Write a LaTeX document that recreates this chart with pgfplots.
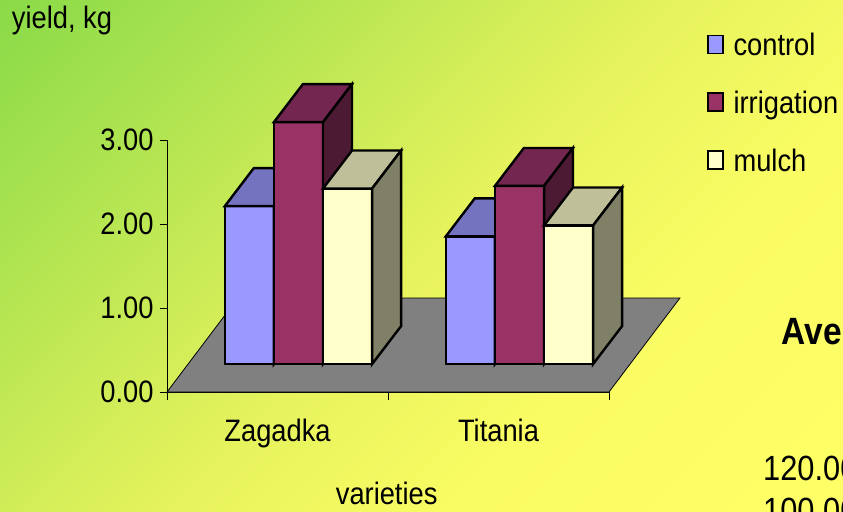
\documentclass[border=0pt]{standalone}
\usepackage{pgfplots}
\usepackage{pgfplotstable}
\pgfplotsset{compat=1.18}
\usepackage{fontspec}
\setmainfont{Liberation Sans}[FakeStretch=0.88]
\newcommand\lbl{\fontsize{31bp}{36bp}\selectfont}

\definecolor{bgG}{RGB}{138,218,72}
\definecolor{bgM}{RGB}{230,243,93}
\definecolor{bgYa}{RGB}{250,252,99}
\definecolor{bgY}{RGB}{255,255,102}
\pgfdeclarehorizontalshading{bgshade}{100bp}{color(0bp)=(bgG); color(14.6bp)=(bgG); color(50bp)=(bgM); color(65bp)=(bgYa); color(85.4bp)=(bgY); color(100bp)=(bgY)}

\definecolor{ctrl}{HTML}{9999FF}
\definecolor{ctrlT}{HTML}{7373BF}
\definecolor{ctrlS}{HTML}{4D4D80}
\definecolor{irr}{HTML}{993366}
\definecolor{irrT}{HTML}{732650}
\definecolor{irrS}{HTML}{4D1A33}
\definecolor{mul}{HTML}{FFFFCC}
\definecolor{mulT}{HTML}{BFBF99}
\definecolor{mulS}{HTML}{808066}
\definecolor{floorgray}{HTML}{808080}

% yield, kg
\pgfplotstableread{
variety control irrigation mulch
Zagadka 1.88 2.88 2.09
Titania 1.52 2.12 1.65
}\yielddata

% oblique geometry (axis units)
\newcommand\bw{0.2222}
\newcommand\bofy{0.333}
\newcommand\bdx{0.131}
\newcommand\bdy{0.452}

\newcommand\cuboid[5]{%
 \pgfmathsetmacro\xa{#1}%
 \pgfmathsetmacro\xb{#1+\bw}%
 \pgfmathsetmacro\yt{\bofy+#2}%
 \pgfmathsetmacro\xc{\xa+\bdx}%
 \pgfmathsetmacro\xd{\xb+\bdx}%
 \pgfmathsetmacro\yu{\yt+\bdy}%
 \pgfmathsetmacro\yv{\bofy+\bdy}%
 \addplot[barline, fill=#3] coordinates {(\xa,\bofy) (\xb,\bofy) (\xb,\yt) (\xa,\yt)} -- cycle;
 \addplot[barline, fill=#4] coordinates {(\xa,\yt) (\xb,\yt) (\xd,\yu) (\xc,\yu)} -- cycle;
 \addplot[barline, fill=#5] coordinates {(\xb,\bofy) (\xd,\yv) (\xd,\yu) (\xb,\yt)} -- cycle;
}
\newcommand\tablebar[6]{%
 \pgfplotstablegetelem{#1}{#2}\of\yielddata
 \edef\val{\pgfplotsretval}%
 \cuboid{#3}{\val}{#4}{#5}{#6}}

\begin{document}
\begin{tikzpicture}
\useasboundingbox (0bp,0bp) rectangle (843bp,512bp);
\clip (0bp,0bp) rectangle (843bp,512bp);
\shade[shading=bgshade, shading angle=-45] (0bp,0bp) rectangle (843bp,512bp);

\begin{axis}[
 at={(167bp,120bp)}, anchor=south west,
 scale only axis, width=442bp, height=252bp,
 xmin=0, xmax=2, ymin=0, ymax=3,
 clip=false,
 axis lines*=left,
 axis line style={black, line width=0.8bp},
 ytick={0,1,2,3},
 yticklabel style={xshift=-3bp, /pgf/number format/.cd, fixed, fixed zerofill, precision=2, assume math mode=true},
 xtick={0.5,1.5}, xticklabels={Zagadka,Titania},
 xticklabel style={yshift=-17bp},
 major x tick style={draw=none},
 minor xtick={0,1,2},
 tick align=outside, major tick length=7bp, minor tick length=8bp,
 tick style={black, line width=0.8bp},
 tick label style={font=\lbl},
 xlabel={varieties}, ylabel={yield, kg},
 every axis x label/.style={at={(rel axis cs:0.497,-0.446)}, anchor=base, font=\lbl, inner sep=0pt},
 every axis y label/.style={at={(rel axis cs:-0.2376,1.443)}, anchor=base, font=\lbl, inner sep=0pt},
 barline/.style={draw=black, line width=2.4bp, line join=miter, forget plot},
 legend style={at={(rel axis cs:1.2217,1.418)}, anchor=north west, draw=none, fill=none,
   inner sep=0pt, outer sep=0pt, row sep=30.5bp, column sep=10bp, font=\lbl,
   nodes={inner sep=0pt, text height=20bp, text depth=6bp}},
 legend cell align=left,
 legend image code/.code={\draw[#1, line width=1.6bp] (0bp,-4.5bp) rectangle (15bp,13.5bp);},
]
% floor
\addplot[fill=floorgray, draw=black, line width=0.8bp, forget plot] coordinates {(0,0) (2,0) (2.321,1.119) (0.321,1.119)} -- cycle;
% bars
\tablebar{0}{control}{0.2617}{ctrl}{ctrlT}{ctrlS}
\tablebar{0}{irrigation}{0.4839}{irr}{irrT}{irrS}
\tablebar{0}{mulch}{0.7061}{mul}{mulT}{mulS}
\tablebar{1}{control}{1.2617}{ctrl}{ctrlT}{ctrlS}
\tablebar{1}{irrigation}{1.4839}{irr}{irrT}{irrS}
\tablebar{1}{mulch}{1.7061}{mul}{mulT}{mulS}
\addlegendimage{fill=ctrl, draw=black}
\addlegendentry{control}
\addlegendimage{fill=irr, draw=black}
\addlegendentry{irrigation}
\addlegendimage{fill=mul, draw=black}
\addlegendentry{mulch}
\end{axis}

\node[anchor=base west, inner sep=0pt, font=\fontsize{38bp}{44bp}\selectfont\bfseries] at (781.7bp,167bp) {Average yield};
\node[anchor=base west, inner sep=0pt, font=\fontsize{35bp}{40bp}\selectfont] at (763bp,32bp) {120.00};
\node[anchor=base west, inner sep=0pt, font=\fontsize{35bp}{40bp}\selectfont] at (763bp,-10bp) {100.00};
\end{tikzpicture}
\end{document}
